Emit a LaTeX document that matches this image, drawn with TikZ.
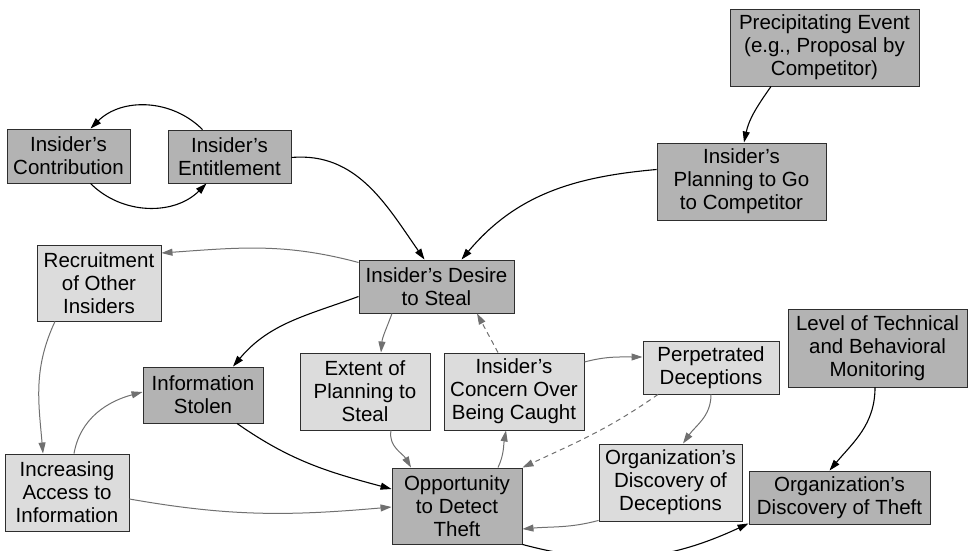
\documentclass[tikz,border=0pt]{standalone}
\usepackage{fontspec}
\setmainfont{Liberation Sans}
\usetikzlibrary{arrows.meta}
\definecolor{darkbox}{HTML}{B3B3B3}
\definecolor{lightbox}{HTML}{DCDCDC}
\definecolor{boxline}{HTML}{2E2E2E}
\definecolor{grayarrow}{HTML}{707070}
\tikzset{
  basebox/.style={draw=boxline, line width=0.9pt, inner sep=0pt, align=center,
    font=\fontsize{20.5}{23}\selectfont},
  darkn/.style={basebox, fill=darkbox},
  lightn/.style={basebox, fill=lightbox},
  blk/.style={draw=black, line width=1.1pt, -{Triangle[length=11pt,width=7pt]}},
  gry/.style={draw=grayarrow, line width=1pt, -{Triangle[length=11pt,width=7pt]}},
  gdash/.style={gry, dash pattern=on 5pt off 4pt},
}
\begin{document}
\begin{tikzpicture}[x=1pt,y=1pt]
\useasboundingbox (0,0) rectangle (974,550);
% nodes
\node[darkn, minimum width=189pt, minimum height=77pt] (prec) at (824.5,502.5) {Precipitating Event\\(e.g., Proposal by\\Competitor)};
\node[darkn, minimum width=169pt, minimum height=77pt] (plan) at (741.5,368.5) {Insider’s\\Planning to Go\\to Competitor};
\node[darkn, minimum width=123pt, minimum height=54pt] (contrib) at (68.5,394) {Insider’s\\Contribution};
\node[darkn, minimum width=123pt, minimum height=53pt] (entitle) at (229.5,393.5) {Insider’s\\Entitlement};
\node[darkn, minimum width=155pt, minimum height=53pt] (desire) at (436.5,263.5) {Insider’s Desire\\to Steal};
\node[lightn, minimum width=124pt, minimum height=76pt] (recruit) at (99,267) {Recruitment\\of Other\\Insiders};
\node[darkn, minimum width=120pt, minimum height=56pt] (stolen) at (203,155) {Information\\Stolen};
\node[lightn, minimum width=130pt, minimum height=77pt] (extent) at (365,158.5) {Extent of\\Planning to\\Steal};
\node[lightn, minimum width=140pt, minimum height=77pt] (concern) at (514,158.5) {Insider’s\\Concern Over\\Being Caught};
\node[lightn, minimum width=136pt, minimum height=53pt] (perp) at (711,182.5) {Perpetrated\\Deceptions};
\node[darkn, minimum width=179pt, minimum height=78pt] (level) at (877.5,202) {Level of Technical\\and Behavioral\\Monitoring};
\node[lightn, minimum width=143pt, minimum height=77pt] (orgdec) at (670.5,67.5) {Organization’s\\Discovery of\\Deceptions};
\node[darkn, minimum width=181pt, minimum height=53pt] (orgtheft) at (839.5,52.5) {Organization’s\\Discovery of Theft};
\node[lightn, minimum width=124pt, minimum height=77pt] (access) at (67,57.5) {Increasing\\Access to\\Information};
\node[darkn, minimum width=130pt, minimum height=76pt] (opp) at (457,44) {Opportunity\\to Detect\\Theft};
% black connectors
\draw[blk] ([xshift=22pt]contrib.south) to[out=-45,in=-135] ([xshift=-23pt]entitle.south);
\draw[blk] ([xshift=-27pt]entitle.north) to[out=135,in=45] ([xshift=22pt]contrib.north);
\draw[blk] ([yshift=-1pt]entitle.east) to[out=5,in=125] ([xshift=-12pt]desire.north);
\draw[blk] ([yshift=12pt]plan.west) to[out=185,in=50] ([xshift=25pt]desire.north);
\draw[blk] ([xshift=-53.5pt]prec.south) to[out=-125,in=78] ([xshift=2.5pt]plan.north);
\draw[blk] ([yshift=-10pt]desire.west) to[out=200,in=50] ([xshift=30pt]stolen.north);
\draw[blk] ([xshift=34pt]stolen.south) to[out=-35,in=165] ([yshift=17pt]opp.west);
\draw[blk] ([xshift=-2.5pt]level.south) to[out=-90,in=50] ([xshift=-10pt]orgtheft.north);
\draw[blk] (opp.south east) to[out=-15,in=205] ([yshift=1pt]orgtheft.south west);
% gray connectors
\draw[gry] ([yshift=24pt]desire.west) to[out=165,in=4] ([yshift=30pt]recruit.east);
\draw[gry] ([xshift=-44pt]recruit.south) to[out=-115,in=95] ([xshift=-24pt]access.north);
\draw[gry] ([xshift=7pt]access.north) to[out=80,in=195] ([yshift=3pt]stolen.west);
\draw[gry] ([yshift=-6.5pt]access.east) to[out=-10,in=185] ([yshift=-1pt]opp.west);
\draw[gry] ([xshift=-44.5pt]desire.south) to[out=-110,in=85] ([xshift=16pt]extent.north);
\draw[gry] ([xshift=26pt]extent.south) to[out=-100,in=120] ([xshift=-46pt]opp.north);
\draw[gry] ([xshift=41pt]opp.north) to[out=65,in=-100] ([xshift=-8pt]concern.south);
\draw[gry] ([yshift=29.5pt]concern.east) to[out=15,in=180] ([yshift=10.5pt]perp.west);
\draw[gry] (perp.south) to[out=-90,in=55] ([xshift=12.5pt]orgdec.north);
\draw[gry] ([yshift=1pt]orgdec.south west) to[out=195,in=5] ([yshift=-23pt]opp.east);
\draw[gdash] ([xshift=-16pt]concern.north) -- ([xshift=40.5pt]desire.south);
\draw[gdash] ([xshift=-53pt]perp.south) to[out=215,in=25] (opp.north east);
\end{tikzpicture}
\end{document}
